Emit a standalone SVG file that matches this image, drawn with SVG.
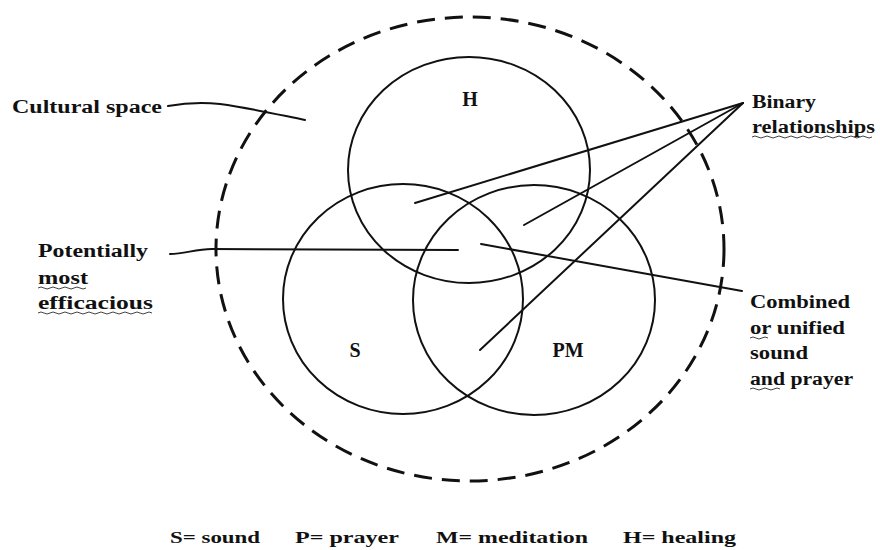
<svg xmlns="http://www.w3.org/2000/svg" width="880" height="550" viewBox="0 0 880 550">
<style>
.ring{fill:none;stroke:#111;stroke-width:2}
.outer{fill:none;stroke:#111;stroke-width:3;stroke-dasharray:18 10}
.ln{fill:none;stroke:#111;stroke-width:2;stroke-linecap:round}
.sq{fill:none;stroke:#444;stroke-width:1}
text{font-family:"Liberation Serif","DejaVu Serif",serif;font-weight:bold;fill:#111}
.lb{font-size:18px}
.big{font-size:20px}
.lg{font-size:17px}
</style>
<rect width="880" height="550" fill="#fff"/>
<g id="cultural-space">
<ellipse class="outer" cx="470" cy="249" rx="254" ry="232"/>
</g>
<g id="H">
<ellipse class="ring" cx="469" cy="170" rx="121" ry="113"/>
<text class="big" x="470" y="106" text-anchor="middle">H</text>
</g>
<g id="S">
<ellipse class="ring" cx="403" cy="299" rx="120" ry="115"/>
<text class="big" x="355" y="357" text-anchor="middle">S</text>
</g>
<g id="PM">
<ellipse class="ring" cx="534" cy="300" rx="121" ry="115"/>
<text class="big" x="568" y="357" text-anchor="middle">PM</text>
</g>
<g id="connectors">
<path class="ln" d="M168,106 C185,103 200,102 220,104 C250,108 280,115 305,120"/>
<path class="ln" d="M743,103 L415,203"/>
<path class="ln" d="M743,103 L524,225"/>
<path class="ln" d="M743,103 L480,350"/>
<path class="ln" d="M170,254 C185,254 195,249 212,249 L458,250"/>
<path class="ln" d="M481,244 L742,291"/>
</g>
<g id="label-cultural">
<text class="lb" x="12" y="113" textLength="150" lengthAdjust="spacingAndGlyphs">Cultural space</text>
</g>
<g id="label-binary">
<text class="lb" x="752" y="108" textLength="64" lengthAdjust="spacingAndGlyphs">Binary</text>
<text class="lb" x="752" y="133" textLength="123" lengthAdjust="spacingAndGlyphs">relationships</text>
<path class="sq" d="M752,137 q3,-2 6,0 t6,0 t6,0 t6,0 t6,0 t6,0 t6,0 t6,0 t6,0 t6,0 t6,0 t6,0 t6,0 t6,0 t6,0 t6,0 t6,0 t6,0 t6,0 t6,0"/>
</g>
<g id="label-potential">
<text class="lb" x="38" y="257" textLength="110" lengthAdjust="spacingAndGlyphs">Potentially</text>
<text class="lb" x="38" y="284" textLength="50" lengthAdjust="spacingAndGlyphs">most</text>
<path class="sq" d="M38,288 q3,-2 6,0 t6,0 t6,0 t6,0 t6,0 t6,0 t6,0 t6,0"/>
<text class="lb" x="38" y="309" textLength="115" lengthAdjust="spacingAndGlyphs">efficacious</text>
<path class="sq" d="M38,313 q3,-2 6,0 t6,0 t6,0 t6,0 t6,0 t6,0 t6,0 t6,0 t6,0 t6,0 t6,0 t6,0 t6,0 t6,0 t6,0 t6,0 t6,0 t6,0 t6,0"/>
</g>
<g id="label-combined">
<text class="lb" x="750" y="308" textLength="100" lengthAdjust="spacingAndGlyphs">Combined</text>
<text class="lb" x="750" y="334" textLength="95" lengthAdjust="spacingAndGlyphs">or unified</text>
<path class="sq" d="M750,338 q3,-2 6,0 t6,0 t6,0"/>
<text class="lb" x="750" y="359" textLength="58" lengthAdjust="spacingAndGlyphs">sound</text>
<text class="lb" x="750" y="385" textLength="103" lengthAdjust="spacingAndGlyphs">and prayer</text>
<path class="sq" d="M750,389 q3,-2 6,0 t6,0 t6,0 t6,0 t6,0"/>
</g>
<g id="legend">
<text class="lg" x="170" y="543" textLength="90" lengthAdjust="spacingAndGlyphs">S= sound</text>
<text class="lg" x="295" y="543" textLength="104" lengthAdjust="spacingAndGlyphs">P= prayer</text>
<text class="lg" x="436" y="543" textLength="152" lengthAdjust="spacingAndGlyphs">M= meditation</text>
<text class="lg" x="623" y="543" textLength="113" lengthAdjust="spacingAndGlyphs">H= healing</text>
</g>
</svg>
